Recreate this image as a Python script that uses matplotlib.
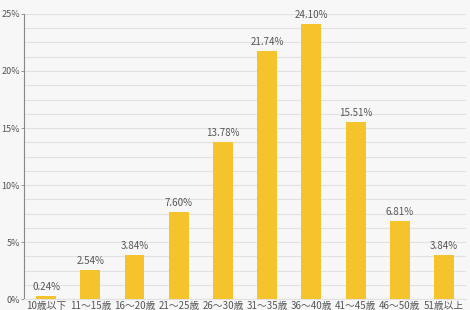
import matplotlib
matplotlib.use("Agg")
import matplotlib.pyplot as plt
import numpy as np

plt.rcParams['font.family'] = ['Noto Sans CJK JP', 'DejaVu Sans']

categories = ["10歳以下", "11～15歳", "16～20歳", "21～25歳", "26～30歳",
              "31～35歳", "36～40歳", "41～45歳", "46～50歳", "51歳以上"]
values = [0.24, 2.54, 3.84, 7.60, 13.78, 21.74, 24.10, 15.51, 6.81, 3.84]
yticks = [0, 5, 10, 15, 20, 25]
ytick_labels = ["0%", "5%", "10%", "15%", "20%", "25%"]

fig = plt.figure(figsize=(4.7, 3.1), dpi=100)
fig.patch.set_facecolor('#f7f7f7')
ax = fig.add_axes([0.051, 0.035, 0.941, 0.92])
ax.set_facecolor('#f7f7f7')

x = np.arange(len(categories))
ax.bar(x, values, width=0.45, color='#f5c42c', zorder=3)
for xi, v in zip(x, values):
    ax.text(xi, v + 0.35, f"{v:.2f}%", ha='center', va='bottom', fontsize=7, color='#555555', zorder=4)

ax.set_xlim(-0.5, len(categories) - 0.5)
ax.set_ylim(0, 25)
ax.set_yticks(yticks)
ax.set_yticklabels(ytick_labels)
ax.set_yticks(np.arange(0, 25.01, 1.25), minor=True)
ax.grid(axis='y', which='both', color='#e2e2e2', linewidth=0.8, zorder=0)
ax.set_xticks(x)
ax.set_xticklabels(categories)
ax.tick_params(axis='x', length=0, labelsize=7, labelcolor='#555555', pad=1)
ax.tick_params(axis='y', which='major', length=2.5, width=0.6, color='#888888', labelsize=6.5, labelcolor='#555555', pad=0.5)
ax.tick_params(axis='y', which='minor', length=0)
for s in ['top', 'right']:
    ax.spines[s].set_visible(False)
ax.spines['left'].set_color('#888888')
ax.spines['left'].set_linewidth(0.8)
ax.spines['bottom'].set_color('#e2e2e2')
ax.spines['bottom'].set_linewidth(0.8)

fig.savefig('out.png', dpi=100, facecolor=fig.get_facecolor())
